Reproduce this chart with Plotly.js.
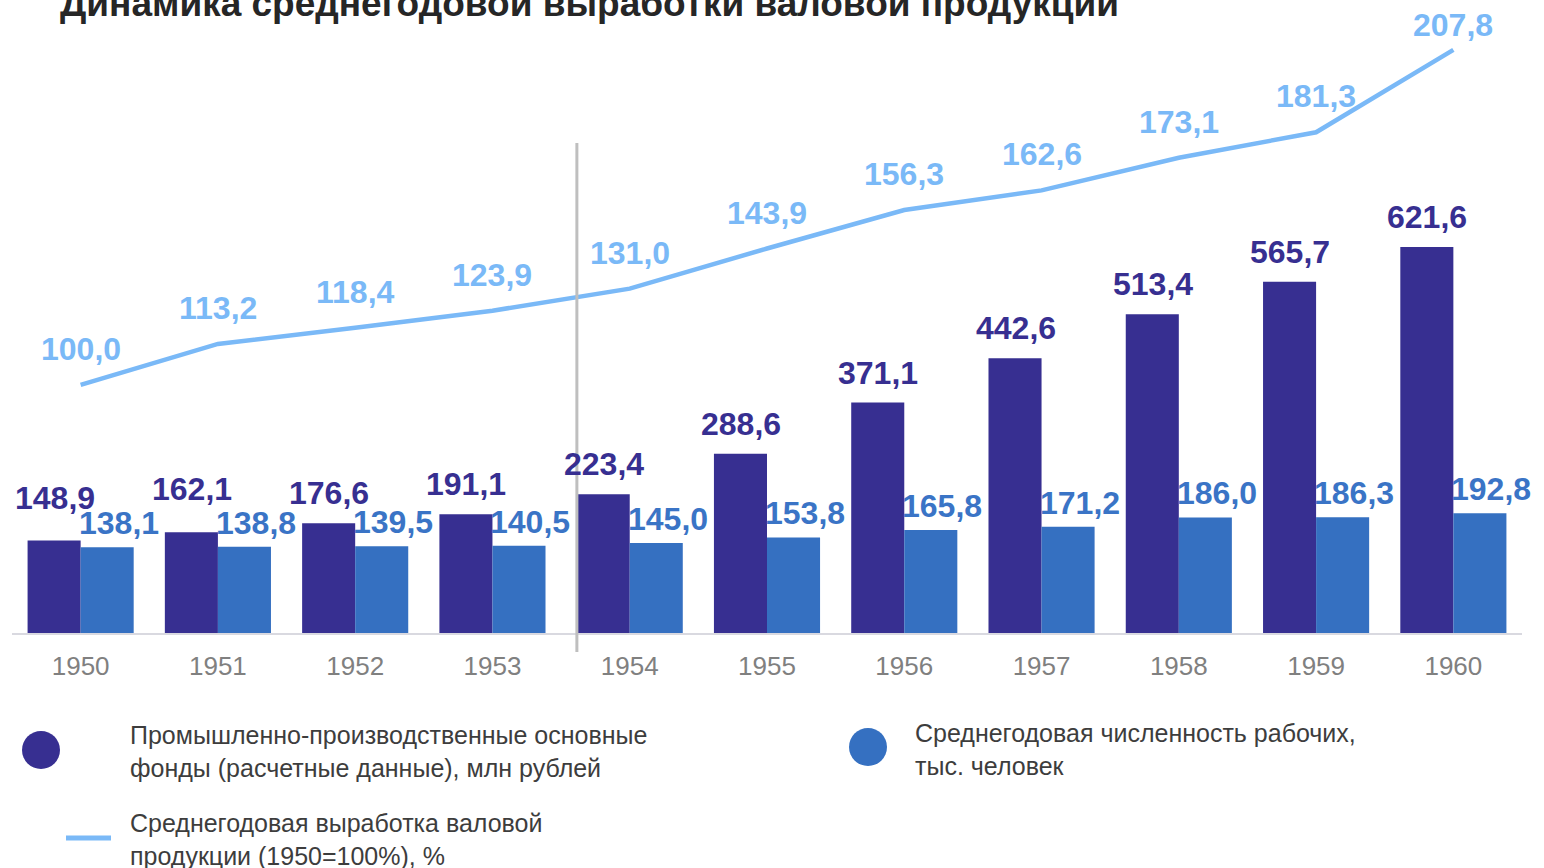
<!DOCTYPE html>
<html>
<head>
<meta charset="utf-8">
<script src="https://cdn.plot.ly/plotly-3.0.1.min.js"></script>
<style>
html,body{margin:0;padding:0;background:#fff;}
#chart{width:1544px;height:868px;}
</style>
</head>
<body>
<div id="chart"></div>
<script>
// ---- data ----
const years = ["1950","1951","1952","1953","1954","1955","1956","1957","1958","1959","1960"];
const fundsValues = [148.9,162.1,176.6,191.1,223.4,288.6,371.1,442.6,513.4,565.7,621.6];
const workersValues = [138.1,138.8,139.5,140.5,145.0,153.8,165.8,171.2,186.0,186.3,192.8];
const outputValues = [100.0,113.2,118.4,123.9,131.0,143.9,156.3,162.6,173.1,181.3,207.8];
const fundsName = "Промышленно-производственные основные<br>фонды (расчетные данные), млн рублей";
const workersName = "Среднегодовая численность рабочих,<br>тыс. человек";
const outputName = "Среднегодовая выработка валовой<br>продукции (1950=100%), %";
const titleText = "Динамика среднегодовой выработки валовой продукции";

// ---- styles ----
const W = 1544, H = 868;
const M = {l: 12, r: 22, t: 30, b: 235};
const plotW = W - M.l - M.r, plotH = H - M.t - M.b;
const px2x = p => (p - M.l) / plotW;
const py2y = p => (H - M.b - p) / plotH;
const Y2 = [20.2, 214.2];
const y2px = v => H - M.b - (v - Y2[0]) / (Y2[1] - Y2[0]) * plotH;

const cDark = "#372f91";
const cMid = "#3570c1";
const cMidText = "#3a74c6";
const cLight = "#7ab9f7";
const FONT = "Liberation Sans, Arial, sans-serif";
const fmt = v => v.toFixed(1).replace(".", ",");

const traces = [
  {type: "bar", x: years, y: fundsValues, name: "funds", marker: {color: cDark}, hoverinfo: "skip"},
  {type: "bar", x: years, y: workersValues, name: "workers", marker: {color: cMid}, hoverinfo: "skip"},
  {type: "scatter", mode: "lines", x: years, y: outputValues, yaxis: "y2", name: "output",
   line: {color: cLight, width: 4.5}, hoverinfo: "skip"}
];

const annotations = [];
years.forEach((yr, i) => {
  const close = (fundsValues[i] - workersValues[i]) < 30;
  annotations.push({x: i, y: fundsValues[i], xref: "x", yref: "y", text: fmt(fundsValues[i]),
    showarrow: false, xshift: -26, yshift: close ? 43 : 30, font: {family: FONT, size: 32, color: cDark, weight: "bold"}});
  annotations.push({x: i, y: workersValues[i], xref: "x", yref: "y", text: fmt(workersValues[i]),
    showarrow: false, xshift: 38, yshift: 24, font: {family: FONT, size: 32, color: cMidText, weight: "bold"}});
  const lineShift = Math.min(36, y2px(outputValues[i]) - 25);
  annotations.push({x: i, y: outputValues[i], xref: "x", yref: "y2", text: fmt(outputValues[i]),
    showarrow: false, yshift: lineShift, font: {family: FONT, size: 32, color: cLight, weight: "bold"}});
});

// legend text
const legFont = {family: FONT, size: 25, color: "#3d3d3d"};
annotations.push({xref: "paper", yref: "paper", x: px2x(128), y: py2y(751), xanchor: "left", yanchor: "middle",
  align: "left", text: fundsName, showarrow: false, font: legFont});
annotations.push({xref: "paper", yref: "paper", x: px2x(913), y: py2y(749), xanchor: "left", yanchor: "middle",
  align: "left", text: workersName, showarrow: false, font: legFont});
annotations.push({xref: "paper", yref: "paper", x: px2x(128), y: py2y(839), xanchor: "left", yanchor: "middle",
  align: "left", text: outputName, showarrow: false, font: legFont});

const shapes = [
  // separator line
  {type: "line", xref: "x", yref: "paper", x0: 3.615, x1: 3.615, y0: py2y(652), y1: py2y(143),
   line: {color: "#bfbfbf", width: 3}},
  // legend markers
  {type: "circle", xref: "paper", yref: "paper", x0: px2x(22), x1: px2x(60), y0: py2y(769), y1: py2y(731),
   fillcolor: cDark, line: {width: 0}},
  {type: "circle", xref: "paper", yref: "paper", x0: px2x(849), x1: px2x(887), y0: py2y(766), y1: py2y(728),
   fillcolor: cMid, line: {width: 0}},
  {type: "line", xref: "paper", yref: "paper", x0: px2x(66), x1: px2x(111), y0: py2y(838), y1: py2y(838),
   line: {color: cLight, width: 5}}
];

const layout = {
  width: W, height: H,
  margin: M,
  paper_bgcolor: "#ffffff", plot_bgcolor: "#ffffff",
  showlegend: false,
  barmode: "group", bargap: 0.227, bargroupgap: 0,
  title: {text: titleText, x: 60 / W, xanchor: "left", xref: "container", y: 0.996, yanchor: "middle", yref: "container",
    font: {family: FONT, size: 37, color: "#262626", weight: "bold"}},
  font: {family: FONT},
  xaxis: {type: "category", range: [-0.5, 10.5], showgrid: false, zeroline: false, showline: true, linecolor: "#d9d9e0", linewidth: 2,
    ticks: "outside", ticklen: 9, tickcolor: "rgba(0,0,0,0)",
    tickfont: {family: FONT, size: 26, color: "#808080"}},
  yaxis: {range: [0, 971], visible: false, showgrid: false, zeroline: false},
  yaxis2: {range: Y2, overlaying: "y", side: "right", visible: false, showgrid: false, zeroline: false},
  annotations: annotations,
  shapes: shapes
};

Plotly.newPlot("chart", traces, layout, {displayModeBar: false, staticPlot: true});
</script>
</body>
</html>
